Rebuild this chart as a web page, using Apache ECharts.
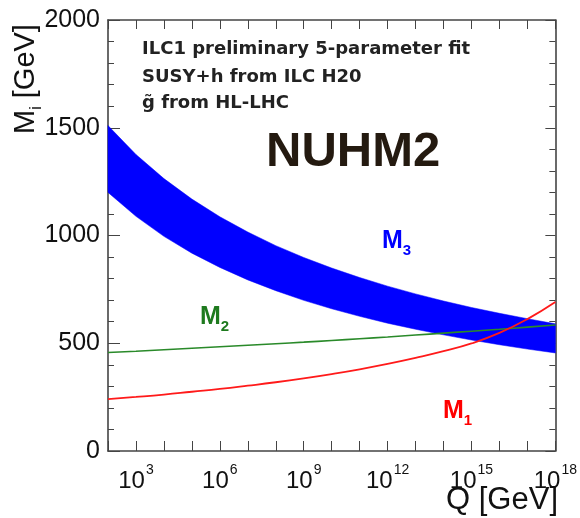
<!DOCTYPE html>
<html><head><meta charset="utf-8">
<script src="https://cdn.jsdelivr.net/npm/echarts@6/dist/echarts.min.js"></script>
<style>html,body{margin:0;padding:0;background:#fff}#c{width:580px;height:518px}</style>
</head><body><div id="c"></div>
<script>
// log10(Q / GeV)
const logQ    = [2,3,4,5,6,7,8,9,10,11,12,13,14,15,16,17,18];
const m3Upper = [1510,1376,1264,1169,1087,1016,953,898,849,805,765,729,696,666,639,614,590];
const m3Lower = [1200,1089,996,918,852,794,744,699,660,625,593,565,539,515,493,473,455];
const m2      = [457,463,470,477,484,491,498,505,513,521,529,538,547,556,565,575,585];
const m1      = [241,251,262,275,288,303,319,337,357,379,404,432,463,499,548,612,691];
const xLabelExponents = [3,6,9,12,15,18];
const infoLines = ['ILC1 preliminary 5-parameter fit','SUSY+h from ILC H20','g\u0303 from HL-LHC'];

const FONT = '"Liberation Sans", Arial, Helvetica, sans-serif';
const WIDE = '"DejaVu Sans", "Liberation Sans", sans-serif';
const axisColor = '#444';
const chart = echarts.init(document.getElementById('c'), null, {renderer:'canvas'});

const pairs = arr => logQ.map((t,i)=>[t,arr[i]]);
const bandData = logQ.map((t,i)=>[t, m3Lower[i], m3Upper[i]]);

const xCommon = {type:'value', min:2, max:18, interval:1,
  axisLine:{show:true, onZero:false, lineStyle:{color:axisColor, width:1.6}},
  splitLine:{show:false}};
const yCommon = {type:'value', min:0, max:2000, interval:500,
  axisLine:{show:true, onZero:false, lineStyle:{color:axisColor, width:1.6}},
  splitLine:{show:false},
  minorTick:{show:true, splitNumber:5, length:6, lineStyle:{color:axisColor}},
  minorSplitLine:{show:false}};

chart.setOption({
  animation:false,
  backgroundColor:'#fff',
  grid:{left:108, right:23, top:20, bottom:67, containLabel:false},
  xAxis:[
    Object.assign({}, xCommon, {position:'bottom',
      axisTick:{show:true, inside:true, length:10, lineStyle:{color:axisColor}},
      axisLabel:{show:true, margin:12, hideOverlap:false, showMinLabel:true, showMaxLabel:true,
        color:'#111', fontFamily:FONT,
        formatter: v => xLabelExponents.indexOf(v) >= 0 ? '{b|10}{s|' + v + '}' : '',
        rich:{b:{fontSize:24, fontFamily:FONT, color:'#111', verticalAlign:'bottom', lineHeight:30},
              s:{fontSize:14, fontFamily:FONT, color:'#111', verticalAlign:'top', lineHeight:30, padding:[0,0,10,1]}}}}),
    Object.assign({}, xCommon, {position:'top',
      axisTick:{show:true, inside:true, length:9, lineStyle:{color:axisColor}},
      axisLabel:{show:false}})
  ],
  yAxis:[
    Object.assign({}, yCommon, {position:'left',
      axisTick:{show:true, inside:true, length:12, lineStyle:{color:axisColor}},
      axisLabel:{show:true, margin:8, fontSize:25, color:'#111', fontFamily:FONT,
        formatter: v => String(v)}}),
    Object.assign({}, yCommon, {position:'right',
      axisTick:{show:true, inside:true, length:10, lineStyle:{color:axisColor}},
      axisLabel:{show:false}})
  ],
  series:[
    {type:'custom', name:'M3 band', data:bandData, silent:true, z:2,
     encode:{x:0, y:[1,2]},
     renderItem:(params, api) => {
       if (params.dataIndex !== 0) return null;
       const pts = [];
       for (let i = 0; i < logQ.length; i++) pts.push(api.coord([logQ[i], m3Upper[i]]));
       for (let i = logQ.length - 1; i >= 0; i--) pts.push(api.coord([logQ[i], m3Lower[i]]));
       return {type:'polygon', shape:{points:pts}, style:{fill:'#0000ff', stroke:'#0000ff', lineWidth:0.5}};
     }},
    {type:'line', name:'M2', data:pairs(m2), symbol:'none', smooth:true, silent:true,
     lineStyle:{color:'#2a8a2a', width:1.6}, z:3},
    {type:'line', name:'M1', data:pairs(m1), symbol:'none', smooth:true, silent:true,
     lineStyle:{color:'#ff1a1a', width:1.8}, z:4}
  ],
  graphic:[
    {type:'text', left:142, top:40, style:{text:infoLines[0], font:'bold 18px '+WIDE, fill:'#222'}},
    {type:'text', left:142, top:68, style:{text:infoLines[1], font:'bold 18px '+WIDE, fill:'#222'}},
    {type:'text', left:142, top:94, style:{text:infoLines[2], font:'bold 18px '+WIDE, fill:'#222'}},
    {type:'text', left:266, top:128, style:{text:'NUHM2', font:'bold 49px '+FONT, fill:'#241a10'}},
    {type:'text', left:382, top:229, style:{text:'{m|M}{s|3}', rich:{
        m:{font:'bold 25px '+FONT, fill:'#0000ff', verticalAlign:'bottom'},
        s:{font:'bold 15px '+FONT, fill:'#0000ff', verticalAlign:'bottom', padding:[0,0,-4,0]}}}},
    {type:'text', left:200, top:305, style:{text:'{m|M}{s|2}', rich:{
        m:{font:'bold 25px '+FONT, fill:'#1e7a1e', verticalAlign:'bottom'},
        s:{font:'bold 15px '+FONT, fill:'#1e7a1e', verticalAlign:'bottom', padding:[0,0,-4,0]}}}},
    {type:'text', left:443, top:399, style:{text:'{m|M}{s|1}', rich:{
        m:{font:'bold 25px '+FONT, fill:'#ff0000', verticalAlign:'bottom'},
        s:{font:'bold 15px '+FONT, fill:'#ff0000', verticalAlign:'bottom', padding:[0,0,-4,0]}}}},
    {type:'text', right:22, top:485, style:{text:'Q [GeV]', font:'31px '+FONT, fill:'#111'}},
    {type:'text', x:11, y:134, rotation:Math.PI/2, style:{text:'{m|M}{s|i}{m| [GeV]}', rich:{
        m:{font:'29px '+FONT, fill:'#111', verticalAlign:'bottom'},
        s:{font:'16px '+FONT, fill:'#111', verticalAlign:'bottom', padding:[0,0,-5,0]}}}}
  ]
});
</script></body></html>
